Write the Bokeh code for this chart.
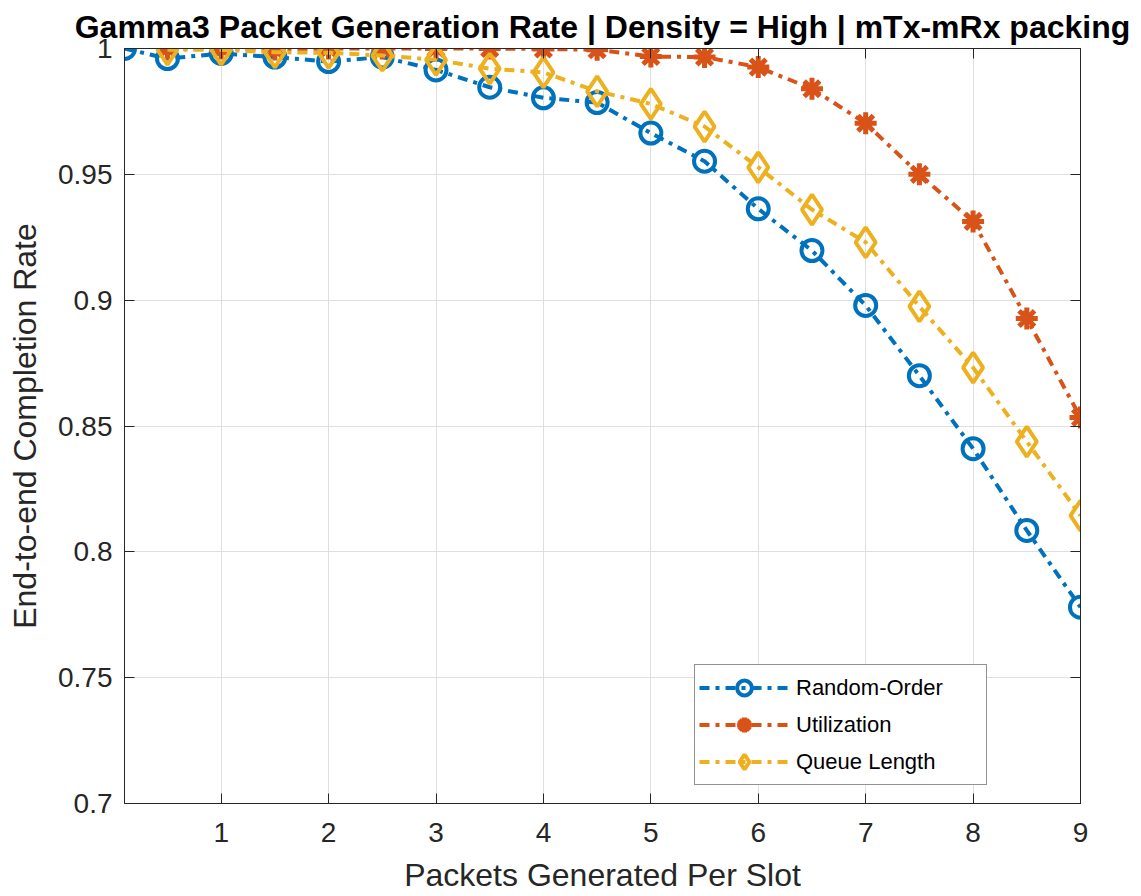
from bokeh.plotting import figure
from bokeh.models import Range1d, LinearAxis, FixedTicker
from bokeh.embed import file_html
from bokeh.resources import INLINE

# Data
x_random = [0.1, 0.5, 1, 1.5, 2, 2.5, 3, 3.5, 4, 4.5, 5, 5.5, 6, 6.5, 7, 7.5, 8, 8.5, 9]
y_random = [1.0, 0.996, 0.998, 0.9966, 0.9948, 0.9966, 0.9915, 0.9846, 0.9804, 0.9785, 0.9664,
            0.9552, 0.9363, 0.9197, 0.8979, 0.870, 0.841, 0.8085, 0.778]
x_other = [0.5, 1, 1.5, 2, 2.5, 3, 3.5, 4, 4.5, 5, 5.5, 6, 6.5, 7, 7.5, 8, 8.5, 9]
y_util = [1.0, 1.0, 0.9996, 1.0, 1.0, 1.0, 1.0, 0.9998, 0.9995, 0.9968, 0.9966, 0.9926,
          0.984, 0.9703, 0.950, 0.9313, 0.8927, 0.8534]
y_queue = [0.9995, 0.9995, 0.9985, 0.9983, 0.9972, 0.9955, 0.992, 0.9905, 0.983, 0.978,
           0.969, 0.9528, 0.936, 0.923, 0.8975, 0.8732, 0.8438, 0.8144]

x_ticks = [1, 2, 3, 4, 5, 6, 7, 8, 9]
y_ticks = [0.7, 0.75, 0.8, 0.85, 0.9, 0.95, 1.0]
y_tick_labels = ["0.7", "0.75", "0.8", "0.85", "0.9", "0.95", "1"]

names = ["Random-Order", "Utilization", "Queue Length"]
colors = ["#0072BD", "#D95319", "#EDB120"]

FONT = "Liberation Sans"
TXT = "#262626"

p = figure(width=1141, height=896, output_backend="svg", toolbar_location=None,
           x_range=Range1d(0.1, 9), y_range=Range1d(0.7, 1.0),
           min_border_left=124, min_border_right=61, min_border_top=48, min_border_bottom=93,
           title="Gamma3 Packet Generation Rate | Density = High | mTx-mRx packing")

p.title.align = "center"
p.title.text_font = FONT
p.title.text_font_size = "32px"
p.title.text_font_style = "bold"
p.title.text_color = "black"
p.title.offset = -3
p.title.standoff = 8

p.background_fill_color = "white"
p.border_fill_color = "white"
p.outline_line_color = TXT
p.outline_line_width = 1

for ax in [p.xaxis[0], p.yaxis[0]]:
    ax.major_label_text_font = FONT
    ax.major_label_text_font_size = "28px"
    ax.major_label_text_color = TXT
    ax.axis_label_text_font = FONT
    ax.axis_label_text_font_size = "32px"
    ax.axis_label_text_font_style = "normal"
    ax.axis_label_text_color = TXT
    ax.axis_line_color = TXT
    ax.major_tick_line_color = TXT
    ax.major_tick_in = 10
    ax.major_tick_out = 0
    ax.minor_tick_line_color = None

p.xaxis[0].ticker = FixedTicker(ticks=x_ticks)
p.yaxis[0].ticker = FixedTicker(ticks=y_ticks)
p.yaxis[0].major_label_overrides = {t: l for t, l in zip(y_ticks, y_tick_labels)}
p.xaxis[0].axis_label = "Packets Generated Per Slot"
p.yaxis[0].axis_label = "End-to-end Completion Rate"
p.xaxis[0].major_label_standoff = 19
p.yaxis[0].major_label_standoff = 12
p.xaxis[0].axis_label_standoff = 12
p.yaxis[0].axis_label_standoff = 12

# box axes (top and right) with inward ticks and no labels
top = LinearAxis(ticker=FixedTicker(ticks=x_ticks))
right = LinearAxis(ticker=FixedTicker(ticks=y_ticks))
top.major_label_overrides = {t: "" for t in x_ticks}
right.major_label_overrides = {t: "" for t in y_ticks}
for ax in [top, right]:
    ax.major_label_text_font_size = "1px"
    ax.axis_line_color = TXT
    ax.major_tick_line_color = TXT
    ax.major_tick_in = 10
    ax.major_tick_out = 0
    ax.minor_tick_line_color = None
    ax.major_label_standoff = 0
p.add_layout(top, "above")
p.add_layout(right, "right")

p.xgrid.ticker = FixedTicker(ticks=x_ticks)
p.ygrid.ticker = FixedTicker(ticks=y_ticks)
p.grid.grid_line_color = "#dfdfdf"
p.grid.grid_line_width = 1

DASH = "10 6 4 6"
LW = 4

# Random-Order
p.line(x_random, y_random, line_color=colors[0], line_width=LW, line_dash=DASH, legend_label=names[0])
p.scatter(x_random, y_random, marker="circle", size=21, line_color=colors[0], line_width=LW,
          fill_alpha=0, legend_label=names[0])
# Utilization
p.line(x_other, y_util, line_color=colors[1], line_width=LW, line_dash=DASH, legend_label=names[1])
p.scatter(x_other, y_util, marker="asterisk", size=22, line_color=colors[1], line_width=LW + 1,
          legend_label=names[1])
# Queue Length
p.line(x_other, y_queue, line_color=colors[2], line_width=LW, line_dash=DASH, legend_label=names[2])
p.scatter(x_other, y_queue, marker="diamond", size=30, line_color=colors[2], line_width=LW,
          fill_alpha=0, legend_label=names[2])

lg = p.legend[0]
lg.location = (570, 18)
lg.glyph_width = 90
lg.glyph_height = 37
lg.spacing = 0
lg.padding = 4
lg.margin = 0
lg.label_standoff = 7
lg.label_width = 186
lg.label_text_font = FONT
lg.label_text_font_size = "22px"
lg.label_text_color = "black"
lg.border_line_color = TXT
lg.border_line_width = 1
lg.background_fill_color = "white"
lg.background_fill_alpha = 1

open("out.html", "w").write(file_html(p, INLINE))
